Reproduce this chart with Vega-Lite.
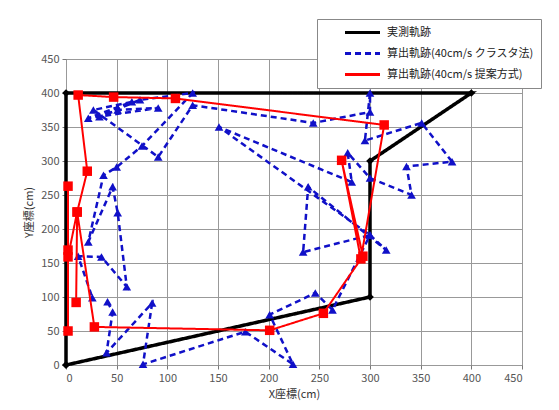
{
  "$schema": "https://vega.github.io/schema/vega-lite/v6.json",
  "width": 456,
  "height": 306,
  "autosize": {"type": "none"},
  "padding": {"left": 66, "top": 59, "right": 37, "bottom": 45},
  "background": "white",
  "config": {
    "font": "Noto Sans CJK JP",
    "view": {"stroke": "#777", "strokeWidth": 1},
    "axis": {
      "grid": true,
      "gridColor": "#999",
      "gridWidth": 1,
      "domain": false,
      "tickColor": "#777",
      "tickSize": 4,
      "labelFont": "Noto Sans CJK JP",
      "labelFontSize": 11,
      "labelColor": "#555",
      "titleFont": "Noto Sans CJK JP",
      "titleFontSize": 11,
      "titleFontWeight": "normal",
      "titleColor": "#333"
    }
  },
  "data": {
    "values": [
      {"s": "実測軌跡", "i": 1, "x": 0, "y": 0},
      {"s": "実測軌跡", "i": 2, "x": 0, "y": 400},
      {"s": "実測軌跡", "i": 3, "x": 400, "y": 400},
      {"s": "実測軌跡", "i": 4, "x": 300, "y": 300},
      {"s": "実測軌跡", "i": 5, "x": 300, "y": 100},
      {"s": "実測軌跡", "i": 6, "x": 0, "y": 0},

      {"s": "算出軌跡(40cm/s クラスタ法)", "i": 1, "x": 41, "y": 93},
      {"s": "算出軌跡(40cm/s クラスタ法)", "i": 2, "x": 46, "y": 78},
      {"s": "算出軌跡(40cm/s クラスタ法)", "i": 3, "x": 40, "y": 18},
      {"s": "算出軌跡(40cm/s クラスタ法)", "i": 4, "x": 85, "y": 91},
      {"s": "算出軌跡(40cm/s クラスタ法)", "i": 5, "x": 76, "y": 1},
      {"s": "算出軌跡(40cm/s クラスタ法)", "i": 6, "x": 177, "y": 49},
      {"s": "算出軌跡(40cm/s クラスタ法)", "i": 7, "x": 224, "y": 1},
      {"s": "算出軌跡(40cm/s クラスタ法)", "i": 8, "x": 201, "y": 74},
      {"s": "算出軌跡(40cm/s クラスタ法)", "i": 9, "x": 246, "y": 106},
      {"s": "算出軌跡(40cm/s クラスタ法)", "i": 10, "x": 263, "y": 81},
      {"s": "算出軌跡(40cm/s クラスタ法)", "i": 11, "x": 300, "y": 191},
      {"s": "算出軌跡(40cm/s クラスタ法)", "i": 12, "x": 316, "y": 169},
      {"s": "算出軌跡(40cm/s クラスタ法)", "i": 13, "x": 239, "y": 262},
      {"s": "算出軌跡(40cm/s クラスタ法)", "i": 14, "x": 234, "y": 166},
      {"s": "算出軌跡(40cm/s クラスタ法)", "i": 15, "x": 300, "y": 191},
      {"s": "算出軌跡(40cm/s クラスタ法)", "i": 16, "x": 151, "y": 350},
      {"s": "算出軌跡(40cm/s クラスタ法)", "i": 17, "x": 282, "y": 269},
      {"s": "算出軌跡(40cm/s クラスタ法)", "i": 18, "x": 278, "y": 312},
      {"s": "算出軌跡(40cm/s クラスタ法)", "i": 19, "x": 300, "y": 275},
      {"s": "算出軌跡(40cm/s クラスタ法)", "i": 20, "x": 341, "y": 250},
      {"s": "算出軌跡(40cm/s クラスタ法)", "i": 21, "x": 336, "y": 292},
      {"s": "算出軌跡(40cm/s クラスタ法)", "i": 22, "x": 381, "y": 299},
      {"s": "算出軌跡(40cm/s クラスタ法)", "i": 23, "x": 351, "y": 356},
      {"s": "算出軌跡(40cm/s クラスタ法)", "i": 24, "x": 295, "y": 330},
      {"s": "算出軌跡(40cm/s クラスタ法)", "i": 25, "x": 300, "y": 400},
      {"s": "算出軌跡(40cm/s クラスタ法)", "i": 26, "x": 300, "y": 372},
      {"s": "算出軌跡(40cm/s クラスタ法)", "i": 27, "x": 244, "y": 356},
      {"s": "算出軌跡(40cm/s クラスタ法)", "i": 28, "x": 125, "y": 382},
      {"s": "算出軌跡(40cm/s クラスタ法)", "i": 29, "x": 91, "y": 306},
      {"s": "算出軌跡(40cm/s クラスタ法)", "i": 30, "x": 27, "y": 375},
      {"s": "算出軌跡(40cm/s クラスタ法)", "i": 31, "x": 65, "y": 387},
      {"s": "算出軌跡(40cm/s クラスタ法)", "i": 32, "x": 22, "y": 363},
      {"s": "算出軌跡(40cm/s クラスタ法)", "i": 33, "x": 91, "y": 378},
      {"s": "算出軌跡(40cm/s クラスタ法)", "i": 34, "x": 51, "y": 375},
      {"s": "算出軌跡(40cm/s クラスタ法)", "i": 35, "x": 33, "y": 365},
      {"s": "算出軌跡(40cm/s クラスタ法)", "i": 36, "x": 73, "y": 390},
      {"s": "算出軌跡(40cm/s クラスタ法)", "i": 37, "x": 125, "y": 400},
      {"s": "算出軌跡(40cm/s クラスタ法)", "i": 38, "x": 75, "y": 322},
      {"s": "算出軌跡(40cm/s クラスタ法)", "i": 39, "x": 50, "y": 291},
      {"s": "算出軌跡(40cm/s クラスタ法)", "i": 40, "x": 37, "y": 279},
      {"s": "算出軌跡(40cm/s クラスタ法)", "i": 41, "x": 22, "y": 181},
      {"s": "算出軌跡(40cm/s クラスタ法)", "i": 42, "x": 46, "y": 262},
      {"s": "算出軌跡(40cm/s クラスタ法)", "i": 43, "x": 51, "y": 224},
      {"s": "算出軌跡(40cm/s クラスタ法)", "i": 44, "x": 60, "y": 115},
      {"s": "算出軌跡(40cm/s クラスタ法)", "i": 45, "x": 35, "y": 159},
      {"s": "算出軌跡(40cm/s クラスタ法)", "i": 46, "x": 12, "y": 160},
      {"s": "算出軌跡(40cm/s クラスタ法)", "i": 47, "x": 26, "y": 99},

      {"s": "算出軌跡(40cm/s 提案方式)", "i": 1, "x": 2, "y": 50},
      {"s": "算出軌跡(40cm/s 提案方式)", "i": 2, "x": 2, "y": 263},
      {"s": "算出軌跡(40cm/s 提案方式)", "i": 3, "x": 2, "y": 169},
      {"s": "算出軌跡(40cm/s 提案方式)", "i": 4, "x": 2, "y": 159},
      {"s": "算出軌跡(40cm/s 提案方式)", "i": 5, "x": 11, "y": 225},
      {"s": "算出軌跡(40cm/s 提案方式)", "i": 6, "x": 21, "y": 285},
      {"s": "算出軌跡(40cm/s 提案方式)", "i": 7, "x": 12, "y": 397},
      {"s": "算出軌跡(40cm/s 提案方式)", "i": 8, "x": 47, "y": 394},
      {"s": "算出軌跡(40cm/s 提案方式)", "i": 9, "x": 108, "y": 392},
      {"s": "算出軌跡(40cm/s 提案方式)", "i": 10, "x": 314, "y": 353},
      {"s": "算出軌跡(40cm/s 提案方式)", "i": 11, "x": 291, "y": 156},
      {"s": "算出軌跡(40cm/s 提案方式)", "i": 12, "x": 272, "y": 301},
      {"s": "算出軌跡(40cm/s 提案方式)", "i": 13, "x": 293, "y": 160},
      {"s": "算出軌跡(40cm/s 提案方式)", "i": 14, "x": 254, "y": 76},
      {"s": "算出軌跡(40cm/s 提案方式)", "i": 15, "x": 201, "y": 51},
      {"s": "算出軌跡(40cm/s 提案方式)", "i": 16, "x": 28, "y": 56},
      {"s": "算出軌跡(40cm/s 提案方式)", "i": 17, "x": 11, "y": 225},
      {"s": "算出軌跡(40cm/s 提案方式)", "i": 18, "x": 10, "y": 92}
    ]
  },
  "encoding": {
    "x": {
      "field": "x", "type": "quantitative",
      "scale": {"domain": [0, 450], "nice": false},
      "axis": {"values": [0, 50, 100, 150, 200, 250, 300, 350, 400, 450], "title": "X座標(cm)", "titlePadding": 5, "labelPadding": 3}
    },
    "y": {
      "field": "y", "type": "quantitative",
      "scale": {"domain": [0, 450], "nice": false},
      "axis": {"values": [0, 50, 100, 150, 200, 250, 300, 350, 400, 450], "title": "Y座標(cm)", "titlePadding": 6, "labelPadding": 3}
    },
    "order": {"field": "i", "type": "quantitative"}
  },
  "layer": [
    {
      "transform": [{"filter": "datum.s === '実測軌跡'"}],
      "mark": {"type": "line", "strokeWidth": 3.5},
      "encoding": {
        "color": {"field": "s", "type": "nominal",
          "scale": {"domain": ["実測軌跡", "算出軌跡(40cm/s クラスタ法)", "算出軌跡(40cm/s 提案方式)"], "range": ["#000000", "#1010c8", "#ff0000"]},
          "legend": {
            "title": null, "orient": "none", "legendX": 251, "legendY": -40,
            "fillColor": "white", "strokeColor": "#888", "padding": 7,
            "symbolType": "M-3.5,0H3.5", "symbolSize": 100, "symbolStrokeWidth": 3,
            "symbolOffset": 32, "labelOffset": 18,
            "labelFont": "Noto Sans CJK JP", "labelFontSize": 11, "labelColor": "#222",
            "rowPadding": 8, "labelLimit": 300
          }
        },
        "strokeDash": {"field": "s", "type": "nominal",
          "scale": {"domain": ["実測軌跡", "算出軌跡(40cm/s クラスタ法)", "算出軌跡(40cm/s 提案方式)"], "range": [[1, 0], [6, 4], [1, 0]]},
          "legend": null
        }
      }
    },
    {
      "transform": [{"filter": "datum.s === '実測軌跡'"}],
      "mark": {"type": "point", "shape": "diamond", "filled": true, "color": "#000000", "size": 60, "opacity": 1}
    },
    {
      "transform": [{"filter": "datum.s === '算出軌跡(40cm/s クラスタ法)'"}],
      "mark": {"type": "line", "strokeWidth": 2.5},
      "encoding": {
        "color": {"field": "s", "type": "nominal"},
        "strokeDash": {"field": "s", "type": "nominal"}
      }
    },
    {
      "transform": [{"filter": "datum.s === '算出軌跡(40cm/s クラスタ法)'"}],
      "mark": {"type": "point", "shape": "triangle-up", "filled": true, "color": "#1010c8", "size": 75, "opacity": 1}
    },
    {
      "transform": [{"filter": "datum.s === '算出軌跡(40cm/s 提案方式)'"}],
      "mark": {"type": "line", "strokeWidth": 2},
      "encoding": {
        "color": {"field": "s", "type": "nominal"},
        "strokeDash": {"field": "s", "type": "nominal"}
      }
    },
    {
      "transform": [{"filter": "datum.s === '算出軌跡(40cm/s 提案方式)'"}],
      "mark": {"type": "point", "shape": "square", "filled": true, "color": "#ff0000", "size": 90, "opacity": 1}
    }
  ]
}
